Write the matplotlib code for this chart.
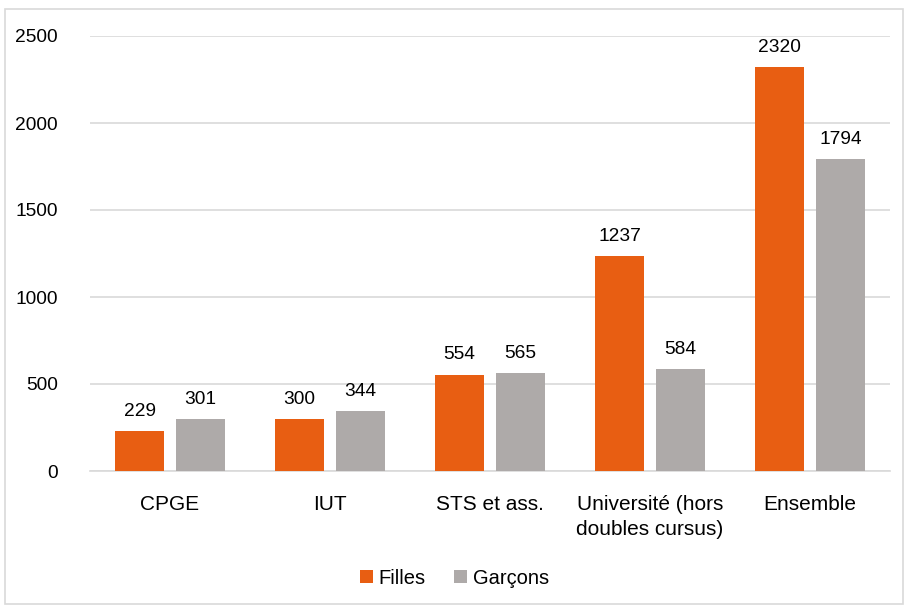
import matplotlib
matplotlib.use("Agg")
import matplotlib.pyplot as plt
import numpy as np
from matplotlib.patches import Rectangle

categories = ["CPGE", "IUT", "STS et ass.", "Université (hors\ndoubles cursus)", "Ensemble"]
filles = [229, 300, 554, 1237, 2320]
garcons = [301, 344, 565, 584, 1794]
yticks = [0, 500, 1000, 1500, 2000, 2500]

plt.rcParams['font.family'] = ['Liberation Sans', 'DejaVu Sans']
num_fs = 13.8
txt_fs = 15
leg_fs = 14.5

fig = plt.figure(figsize=(9.09, 6.08), dpi=100)
fig.patches.append(Rectangle((5/909, 1-604/608), 898/909, 595/608, transform=fig.transFigure,
                             fill=False, edgecolor='#D9D9D9', linewidth=1.2))
ax = fig.add_axes([90/909, 1-471/608, 800/909, 435/608])

x = np.arange(len(categories))
w = 0.31
off = 0.19
orange = '#E85E12'
grey = '#AEAAA9'
b1 = ax.bar(x - off, filles, w, color=orange, label='Filles', zorder=3)
b2 = ax.bar(x + off, garcons, w, color=grey, label='Garçons', zorder=3)
for bars in (b1, b2):
    ax.bar_label(bars, padding=8, fontsize=num_fs)

ax.set_xlim(-0.5, len(categories) - 0.5)
ax.set_ylim(0, 2500)
ax.set_yticks(yticks)
ax.yaxis.grid(True, color='#D9D9D9', linewidth=1.2, zorder=0)
ax.set_axisbelow(True)
for s in ['top', 'right', 'left']:
    ax.spines[s].set_visible(False)
ax.spines['bottom'].set_color('#D9D9D9')
ax.spines['bottom'].set_linewidth(1.2)
ax.tick_params(axis='y', length=0, labelsize=num_fs, pad=23)
ax.tick_params(axis='x', length=0, labelsize=txt_fs, pad=17)
ax.set_xticks(x)
ax.set_xticklabels(categories, linespacing=1.45, va='top')

fig.legend(handles=[b1, b2], loc='center', bbox_to_anchor=(0.5, 1-578/608), ncol=2, frameon=False,
           fontsize=leg_fs, handlelength=0.65, handleheight=0.65, handletextpad=0.3, columnspacing=1.4)

fig.savefig('out.png', dpi=100)
